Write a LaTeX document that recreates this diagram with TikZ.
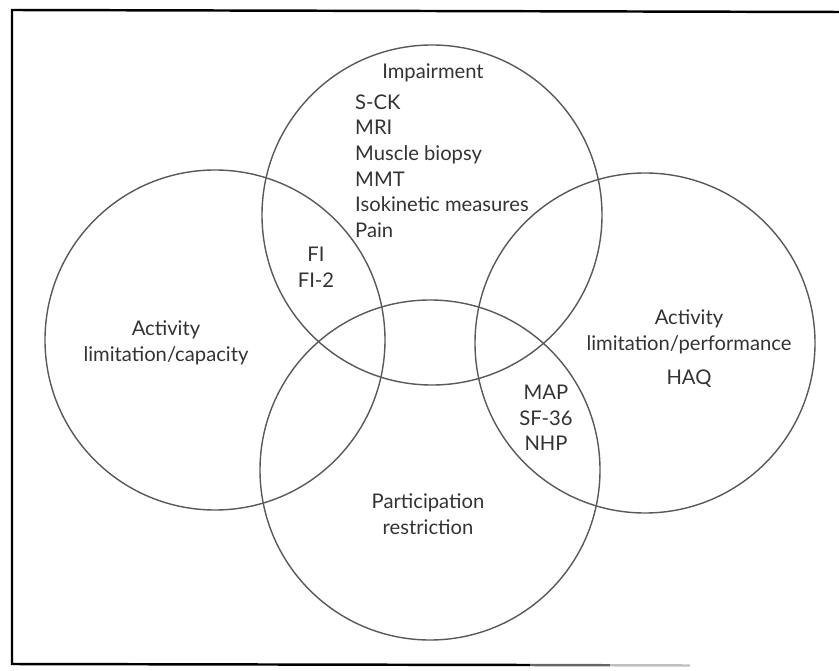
\documentclass[tikz,border=0pt]{standalone}
\usepackage{fontspec}
\setmainfont{Lato}
\usepackage{xcolor}
\usepackage{tikz}
\usetikzlibrary{positioning, calc}

\begin{document}
\begin{tikzpicture}[
    ring/.style={draw=black!65, circle, minimum size=6.8cm, line width=0.8pt},
    lbl/.style={align=center, text=black!80, font=\fontsize{11.5}{14.6}\selectfont, inner sep=0pt},
    frame/.style={line width=1.4pt}
  ]
  \useasboundingbox (-8.6,-6.54) rectangle (8.18,6.86);

  % Frame
  \coordinate (tl) at (-8.36,6.66);
  \coordinate (tr) at (8.18,6.62);
  \coordinate (bl) at (-8.36,-6.42);
  \coordinate (bm) at (2.0,-6.44);
  \coordinate (bf) at (3.6,-6.445);
  \coordinate (br) at (5.2,-6.45);
  \draw[frame] (tr) -- (tl) -- (bl) -- (bm);
  \draw[frame, black!60] (bm) -- (bf);
  \draw[frame, black!25] (bf) -- (br);

  % Circles
  \node[ring] (impair) at (0.04,2.56) {};
  \node[ring] (capacity) at (-4.30,0.06) {};
  \node[ring] (perform) at (4.30,0.0) {};
  \node[ring] (partic) at (0,-2.54) {};

  % Labels
  \node[lbl] (impairlbl) at (0.06,5.4) {Impairment};
  \node[lbl, align=left] (tests) at (0.24,3.54) {S-CK\\MRI\\Muscle biopsy\\MMT\\Isokinetic measures\\Pain};
  \node[lbl] (fi) at (-2.28,1.52) {FI\\FI-2};
  \node[lbl] (caplbl) at (-5.28,0.0) {Activity\\limitation/capacity};
  \node[lbl] (perflbl) at (5.18,-0.11) {Activity\\limitation/performance\\[5pt]HAQ};
  \node[lbl] (mapl) at (2.32,-1.5) {MAP\\SF-36\\NHP};
  \node[lbl] (partlbl) at (-0.04,-3.43) {Participation\\restriction};
\end{tikzpicture}
\end{document}
